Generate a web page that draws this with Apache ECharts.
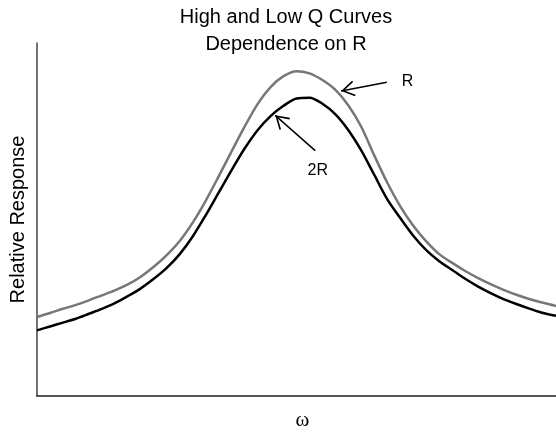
<!DOCTYPE html>
<html>
<head>
<meta charset="utf-8">
<style>
  html, body { margin: 0; padding: 0; background: #fff; }
  #chart { width: 556px; height: 436px; }
</style>
<script src="https://cdn.jsdelivr.net/npm/echarts@6/dist/echarts.min.js"></script>
</head>
<body>
<div id="chart"></div>
<script>
  // omega (no units shown), same sample points for both curves
  const omega = [0, 2.5, 5, 7.5, 10, 12.5, 15, 17.5, 20, 22.5, 25, 27.5, 30, 32.5, 35, 37.5, 40, 42.5, 45, 47.5,
    50, 52.5, 55, 57.5, 60, 62.5, 65, 67.5, 70, 72.5, 75, 77.5, 80, 82.5, 85, 87.5, 90, 92.5, 95, 97.5, 100]
  // relative response, curve R (grey)
  const responseR = [22.4, 23.5, 24.7, 25.8, 27.1, 28.5, 29.9, 31.6, 33.8, 36.6, 39.9, 43.9, 49.1, 55.3, 62.2, 69.3, 76.3, 82.7, 87.5, 90.6,
    92.0, 91.4, 89.5, 86.7, 82.3, 76.2, 68.1, 60.4, 53.7, 48.2, 43.8, 40.2, 37.7, 35.4, 33.4, 31.6, 30.0, 28.6, 27.4, 26.4, 25.5]
  // relative response, curve 2R (black)
  const response2R = [18.6, 19.7, 20.8, 21.9, 23.3, 24.7, 26.3, 28.3, 30.5, 33.2, 36.3, 40.2, 45.2, 51.2, 57.6, 64.0, 70.1, 75.3, 79.3, 82.2,
    84.3, 84.5, 82.8, 79.8, 75.3, 69.5, 62.6, 55.7, 50.4, 45.4, 41.3, 38.2, 35.7, 33.2, 31.0, 29.1, 27.4, 26.0, 24.7, 23.5, 22.7]

  // annotation arrows: [tail, tip], and label anchors
  const arrowR = [[67.4, 88.9], [58.6, 86.4]]
  const arrow2R = [[53.6, 69.5], [45.9, 79.5]]
  const labelR = [71.4, 89.2]
  const label2R = [54.1, 63.9]

  // open "V" arrow head, tip sits at symbol centre
  const openArrow = 'path://M0,-14.5L0,-14.5M0,-1L7.9,11.6L6.5,12.5L0,2L-6.5,12.5L-7.9,11.6Z'

  function pairs(xs, ys) {
    return xs.map((x, i) => [x, ys[i]])
  }

  function arrowLine(a) {
    return [
      { coord: a[0], symbol: 'none' },
      { coord: a[1], symbol: openArrow, symbolSize: [15.8, 27] }
    ]
  }

  function textPoint(coord, txt) {
    return {
      coord: coord,
      symbol: 'circle',
      symbolSize: 1,
      itemStyle: { color: 'rgba(0,0,0,0)' },
      label: {
        show: true,
        position: 'inside',
        formatter: txt,
        color: '#000',
        fontFamily: 'Liberation Sans, Arial, sans-serif',
        fontSize: 16
      }
    }
  }

  const chart = echarts.init(document.getElementById('chart'))
  chart.setOption({
    animation: false,
    title: {
      text: 'High and Low Q Curves\nDependence on R',
      left: 286,
      top: 4,
      padding: 0,
      textAlign: 'center',
      textStyle: {
        color: '#000',
        fontWeight: 'normal',
        fontFamily: 'Liberation Sans, Arial, sans-serif',
        fontSize: 20,
        lineHeight: 27
      }
    },
    grid: {
      left: 37,
      top: 43,
      right: 0,
      bottom: 32
    },
    xAxis: {
      type: 'value',
      min: 0,
      max: 100,
      name: 'ω',
      nameLocation: 'middle',
      nameGap: 14,
      nameTextStyle: {
        color: '#000',
        fontFamily: 'Liberation Serif, Times New Roman, serif',
        fontSize: 21,
        padding: [0, 0, 0, 12]
      },
      axisLine: { lineStyle: { color: '#222', width: 1.5 } },
      axisTick: { show: false },
      axisLabel: { show: false },
      splitLine: { show: false }
    },
    yAxis: {
      type: 'value',
      min: 0,
      max: 100,
      name: 'Relative Response',
      nameLocation: 'middle',
      nameGap: 9,
      nameTextStyle: {
        color: '#000',
        fontFamily: 'Liberation Sans, Arial, sans-serif',
        fontSize: 20
      },
      axisLine: { show: true, lineStyle: { color: '#444', width: 1.5 } },
      axisTick: { show: false },
      axisLabel: { show: false },
      splitLine: { show: false }
    },
    series: [
      {
        name: 'R',
        type: 'line',
        smooth: 0.3,
        symbol: 'none',
        lineStyle: { color: '#777', width: 2.5 },
        data: pairs(omega, responseR),
        markLine: {
          silent: true,
          lineStyle: { color: '#000', width: 1.5, type: 'solid' },
          label: { show: false },
          data: [arrowLine(arrowR)]
        },
        markPoint: {
          silent: true,
          data: [textPoint(labelR, 'R')]
        }
      },
      {
        name: '2R',
        type: 'line',
        smooth: 0.3,
        symbol: 'none',
        lineStyle: { color: '#000', width: 2.5 },
        data: pairs(omega, response2R),
        markLine: {
          silent: true,
          lineStyle: { color: '#000', width: 1.5, type: 'solid' },
          label: { show: false },
          data: [arrowLine(arrow2R)]
        },
        markPoint: {
          silent: true,
          data: [textPoint(label2R, '2R')]
        }
      }
    ]
  })
</script>
</body>
</html>
